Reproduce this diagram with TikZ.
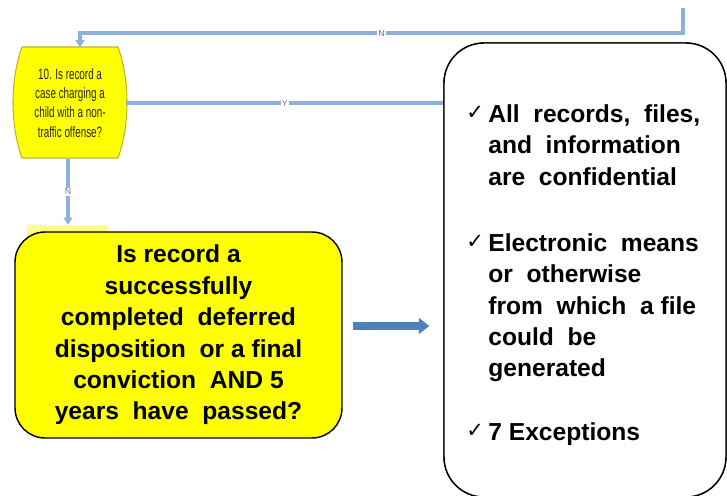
\documentclass[tikz,border=0pt]{standalone}
\usepackage{fontspec}
\setmainfont{Liberation Sans}
\newfontfamily\tickfont{DejaVu Sans}
\usetikzlibrary{arrows.meta,positioning}

\definecolor{flowblue}{HTML}{8DB0DC}
\definecolor{arrowblue}{HTML}{4F81BD}
\definecolor{boxyellow}{HTML}{FFFF00}
\definecolor{oliveedge}{HTML}{B8B830}

\tikzset{
  flowline/.style={draw=flowblue, line width=2.2pt},
  flowtip/.style={-{Triangle[length=4pt,width=5pt]}},
  flowlabel/.style={font=\fontsize{5}{5}\selectfont, text=black!55, fill=white, inner sep=0.6pt},
  smalltext/.style={font=\fontsize{8.5}{11}\selectfont, text=black!85, align=center,
    xscale=0.66, transform shape, minimum width=3.4cm, minimum height=2.22cm},
  bigbox/.style={draw=black, line width=0.8pt, fill=boxyellow, rounded corners=0.6cm,
    minimum width=6.54cm, minimum height=4.12cm, align=center,
    font=\fontsize{14}{17.9}\selectfont\bfseries},
  infobox/.style={draw=black, line width=0.8pt, fill=white, rounded corners=0.8cm,
    minimum width=5.64cm, minimum height=9.08cm},
  listtext/.style={font=\fontsize{14}{17.9}\selectfont\bfseries, align=left, anchor=north west, inner sep=0pt},
  tick/.style={font=\tickfont\fontsize{12}{12}\selectfont, inner sep=0pt, anchor=west},
  bigarrow/.style={draw=arrowblue, line width=4pt, -{Triangle[length=6pt,width=9pt]}}
}

\begin{document}
\begin{tikzpicture}[x=0.02cm,y=-0.02cm]
\useasboundingbox (0,0) rectangle (727,496);

%% small decision box
\draw[fill=boxyellow, draw=oliveedge, line width=0.6pt]
  (22,47) -- (118,47) .. controls (130,80) and (130,125) .. (118,158)
  -- (22,158) .. controls (10,125) and (10,80) .. (22,47) -- cycle;
\node[smalltext] (q10) at (70,103) {10. Is record a\\ case charging a\\ child with a non-\\ traffic offense?};

%% faint box behind the big one
\node[fill=boxyellow!45, minimum width=1.6cm, minimum height=0.6cm] (q11back) at (67,240) {};

%% connectors
\coordinate (topin) at (683,8);
\coordinate (bend) at (80,33);
\draw[flowline, flowtip] (topin) |- node[flowlabel, pos=0.75] {N} (bend) -- (bend |- q10.north);

\node[infobox] (info) at (585,270) {};
\draw[flowline] (q10.east) -- node[flowlabel] {Y} (q10.east -| info.west);
\draw[flowline, flowtip] ([xshift=-0.04cm]q10.south) -- node[flowlabel] {N} ([xshift=-0.04cm]q10.south |- q11back.north);

%% redraw box over the Y line
\node[infobox] at (info) {};

%% big question
\node[bigbox] (q11) at (178.5,335) {Is record a\\ successfully\\ completed\ \ deferred\\ disposition\ \ or a final\\ conviction\ \ AND 5\\ years\ \ have\ \ passed?};

\coordinate (arrowstart) at ([shift={(10,-9)}]q11.east);
\draw[bigarrow, shorten >=0.28cm] (arrowstart) -- (arrowstart -| info.west);

%% list in the right box
\node[tick] (t1) at (466,113) {✓};
\node[listtext] (l1) at (488,104) {All\ \ records,\ \ files,\\ and\ \ information\\ are\ \ confidential};
\node[tick] (t2) at (466,242) {✓};
\node[listtext] (l2) at (488,233) {Electronic\ \ means\\ or\ \ otherwise\\ from\ \ which\ \ a\ file\\ could\ \ be\\ generated};
\node[tick] (t3) at (466,431) {✓};
\node[listtext] (l3) at (488,422) {7 Exceptions};
\end{tikzpicture}
\end{document}
